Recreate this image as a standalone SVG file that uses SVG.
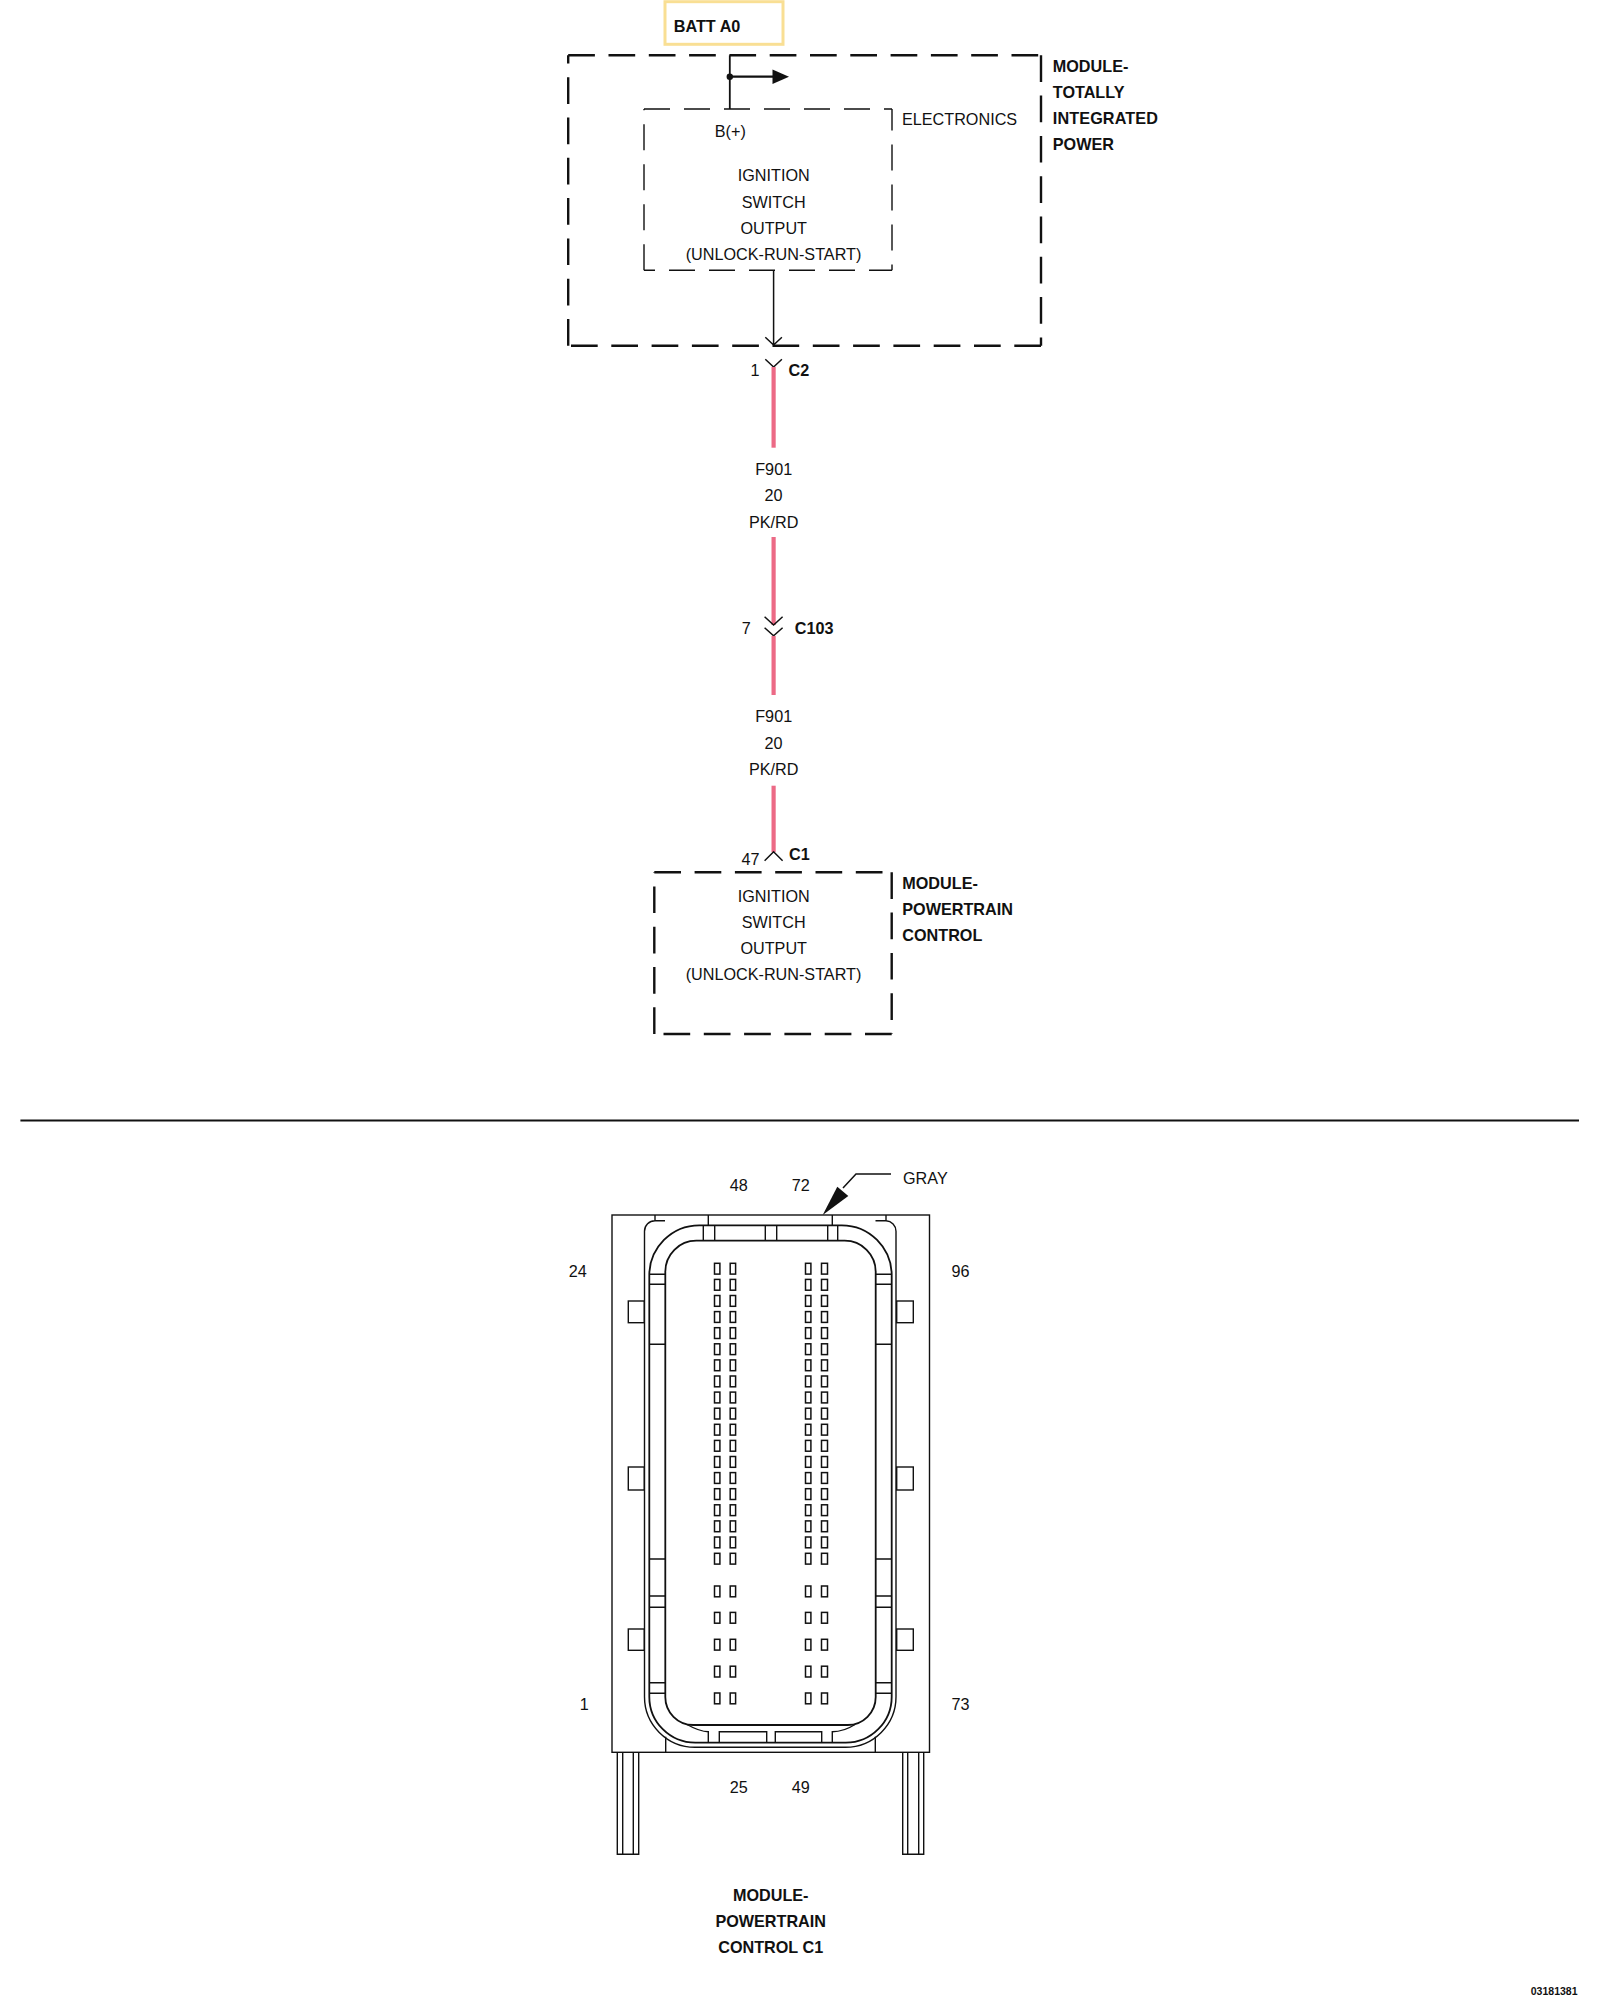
<svg xmlns="http://www.w3.org/2000/svg" xmlns:xlink="http://www.w3.org/1999/xlink" width="1600" height="2000" viewBox="0 0 1600 2000">
<style>
text{font-family:"Liberation Sans",Arial,sans-serif;font-size:16.2px;fill:#111}
.b{font-weight:bold;font-size:16.2px}
.c{text-anchor:middle}
.dash{fill:none;stroke:#111;stroke-width:2.4;stroke-dasharray:26.7 13.6}
.dash2{fill:none;stroke:#111;stroke-width:1.4;stroke-dasharray:26 14}
.ln{fill:none;stroke:#111;stroke-width:1.5}
.hw{fill:none;stroke:#111;stroke-width:1.4}
.hb{fill:none;stroke:#111;stroke-width:1.8}
.wire{fill:none;stroke:#ec6a86;stroke-width:4.2}
.pin{fill:#fff;stroke:#111;stroke-width:1.5}
</style>
<defs>
<g id="pr"><rect class="pin" x="714.5" y="0" width="5.4" height="10.8"/><rect class="pin" x="730.2" y="0" width="5.4" height="10.8"/><rect class="pin" x="805.5" y="0" width="5.4" height="10.8"/><rect class="pin" x="821.5" y="0" width="6" height="10.8"/></g>
</defs>
<g id="batt-a0"><rect x="665" y="1.7" width="118" height="42.6" fill="#fff" stroke="#f9df94" stroke-width="3"/><text class="b" x="673.8" y="32">BATT A0</text></g>
<g id="module-tipm">
<path class="dash" d="M568.2 55.3H1041M1041 55.3V345.7M1041 345.7H568.2M568.2 345.7V55.3"/>
<text class="b" x="1052.8" y="71.7">MODULE-</text><text class="b" x="1052.8" y="97.7">TOTALLY</text><text class="b" x="1052.8" y="123.7" style="letter-spacing:.12px">INTEGRATED</text><text class="b" x="1052.8" y="149.7">POWER</text>
</g>
<g id="electronics">
<path class="dash2" d="M644 109H892M644 270.3V109"/>
<path class="dash2" d="M892 109V270.3" stroke-dashoffset="4.5"/>
<path class="dash2" d="M892 270.3H644" stroke-dashoffset="3"/>
<text x="902" y="125.3">ELECTRONICS</text>
<text class="c" x="730.3" y="136.5">B(+)</text>
<text class="c" x="773.7" y="181">IGNITION</text><text class="c" x="773.7" y="208">SWITCH</text><text class="c" x="773.7" y="234">OUTPUT</text><text class="c" x="773.5" y="260">(UNLOCK-RUN-START)</text>
</g>
<g id="connectors">
<path class="hb" d="M729.8 55.3V109"/>
<path d="M729.8 76.7H774" fill="none" stroke="#111" stroke-width="2.2"/>
<circle cx="729.8" cy="76.7" r="3.2" fill="#111"/>
<path d="M772.5 69.5L789 76.7L772.5 84Z" fill="#111"/>
<path class="ln" d="M773.6 270.3V345M765.3 337.3L773.6 345L781.9 337.3"/>
<path class="ln" d="M765.3 359.3L773.6 367L781.9 359.3"/>
<path class="wire" d="M773.6 367V447.7"/>
<path class="wire" d="M773.6 537V625"/>
<path class="ln" d="M764.6 616.7L773.6 625L782.6 616.7"/>
<path class="ln" d="M764.6 627.7L773.6 635.7L782.6 627.7"/>
<path class="wire" d="M773.6 636V695"/>
<path class="wire" d="M773.6 785.7V852"/>
<path class="ln" d="M764.6 860.7L773.6 851.7L782.6 860.7"/>
<path d="M20.4 1120.5H1579" fill="none" stroke="#111" stroke-width="2"/>
<path class="ln" d="M891 1174H856L843 1188"/>
<path d="M822.7 1215L837.3 1186.7L848.3 1196Z" fill="#111"/>
</g>
<g id="wire-labels">
<text class="c" x="755" y="375.7">1</text><text class="b" x="788.6" y="375.7">C2</text>
<text class="c" x="773.7" y="474.8">F901</text><text class="c" x="773.5" y="501">20</text><text class="c" x="773.7" y="527.5">PK/RD</text>
<text class="c" x="746.2" y="634">7</text><text class="b" x="794.8" y="634">C103</text>
<text class="c" x="773.7" y="722.3">F901</text><text class="c" x="773.5" y="749">20</text><text class="c" x="773.7" y="775">PK/RD</text>
<text class="c" x="750.6" y="865">47</text><text class="b" x="789" y="860">C1</text>
</g>
<g id="module-pcm">
<path class="dash" d="M654.3 872.3H891.7M891.7 872.3V1034M891.7 1034H654.3M654.3 1034V872.3"/>
<text class="c" x="773.7" y="901.7">IGNITION</text><text class="c" x="773.7" y="928.3">SWITCH</text><text class="c" x="773.7" y="954">OUTPUT</text><text class="c" x="773.5" y="980.3">(UNLOCK-RUN-START)</text>
<text class="b" x="902.3" y="889">MODULE-</text><text class="b" x="902.3" y="915">POWERTRAIN</text><text class="b" x="902.3" y="941">CONTROL</text>
</g>
<g id="connector-c1">
<rect class="hw" x="612" y="1215" width="317.5" height="537.3"/>
<path class="hw" d="M665 1220.7H655V1215M655 1220.7A10.5 10.5 0 0 0 644.5 1231.2V1696.7A50.5 50.5 0 0 0 695 1747.3H845.5A50.5 50.5 0 0 0 896 1696.7V1231.2A10.5 10.5 0 0 0 886 1220.7V1215M886 1220.7H875.5"/>
<path class="hw" d="M665.7 1736.7V1752.3M875.3 1736.7V1752.3"/>
<path class="hb" d="M699.3 1225.3H841.7A50 50 0 0 1 891.7 1275.3V1696.7A46 46 0 0 1 845.7 1742.7H695.3A46 46 0 0 1 649.3 1696.7V1275.3A50 50 0 0 1 699.3 1225.3Z"/>
<path class="hb" d="M696.3 1240.7H844.7A31 31 0 0 1 875.7 1271.7V1697A28 28 0 0 1 847.7 1725H693.3A28 28 0 0 1 665.3 1697V1271.7A31 31 0 0 1 696.3 1240.7Z"/>
<path class="hw" d="M708.3 1215V1225.3M832.3 1215V1225.3M703.3 1225.3V1240.7M714.7 1225.3V1240.7M765.3 1225.3V1240.7M776.7 1225.3V1240.7M827.7 1225.3V1240.7M837.7 1225.3V1240.7"/>
<path class="hw" d="M649.3 1274.3H665.3M649.3 1284.3H665.3M649.3 1344.3H665.3M649.3 1559H665.3M649.3 1596H665.3M649.3 1607.3H665.3M649.3 1682.7H665.3M649.3 1693.3H665.3"/>
<path class="hw" d="M875.7 1274.3H891.7M875.7 1284.3H891.7M875.7 1344.3H891.7M875.7 1559H891.7M875.7 1596H891.7M875.7 1607.3H891.7M875.7 1682.7H891.7M875.7 1693.3H891.7"/>
<path class="hw" d="M687 1724.5C695 1729 702 1731.7 708.3 1731.7V1742.7M719.3 1742.7V1731.7H766.7V1742.7M775.3 1742.7V1731.7H821.7V1742.7M832.3 1742.7V1731.7C840 1731.7 848 1729 855 1724.5"/>
<rect class="hw" x="628.3" y="1301" width="16" height="21.7"/><rect class="hw" x="628.3" y="1467" width="16" height="23"/><rect class="hw" x="628.3" y="1629" width="16" height="21.3"/>
<rect class="hw" x="896.7" y="1301" width="16.6" height="21.7"/><rect class="hw" x="896.7" y="1467" width="16.6" height="23"/><rect class="hw" x="896.7" y="1629" width="16.6" height="21.3"/>
<path class="hw" d="M617.3 1752.3V1854.3H638.7V1752.3M622.7 1752.3V1854.3M633.3 1752.3V1854.3M902.7 1752.3V1854.3H923.7V1752.3M907.7 1752.3V1854.3M918.7 1752.3V1854.3"/>
<use href="#pr" y="1263.3"/><use href="#pr" y="1279.4"/><use href="#pr" y="1295.5"/><use href="#pr" y="1311.6"/><use href="#pr" y="1327.7"/><use href="#pr" y="1343.8"/><use href="#pr" y="1359.9"/><use href="#pr" y="1376"/><use href="#pr" y="1392.1"/><use href="#pr" y="1408.2"/><use href="#pr" y="1424.3"/><use href="#pr" y="1440.4"/><use href="#pr" y="1456.5"/><use href="#pr" y="1472.6"/><use href="#pr" y="1488.7"/><use href="#pr" y="1504.8"/><use href="#pr" y="1520.9"/><use href="#pr" y="1537"/><use href="#pr" y="1553.3"/>
<use href="#pr" y="1586"/><use href="#pr" y="1612.4"/><use href="#pr" y="1639.3"/><use href="#pr" y="1666.2"/><use href="#pr" y="1693"/>
<text class="c" x="738.8" y="1190.7">48</text><text class="c" x="800.7" y="1190.7">72</text>
<text x="903" y="1184">GRAY</text>
<text class="c" x="577.8" y="1277">24</text><text class="c" x="960.6" y="1277">96</text>
<text class="c" x="584.3" y="1709.5">1</text><text class="c" x="960.6" y="1709.5">73</text>
<text class="c" x="738.8" y="1793.3">25</text><text class="c" x="800.7" y="1793.3">49</text>
<text class="b c" x="770.7" y="1901">MODULE-</text><text class="b c" x="770.7" y="1927">POWERTRAIN</text><text class="b c" x="770.7" y="1953">CONTROL C1</text>
</g>
<text x="1577.5" y="1995" text-anchor="end" font-weight="bold" style="font-size:10.5px">03181381</text>
</svg>
